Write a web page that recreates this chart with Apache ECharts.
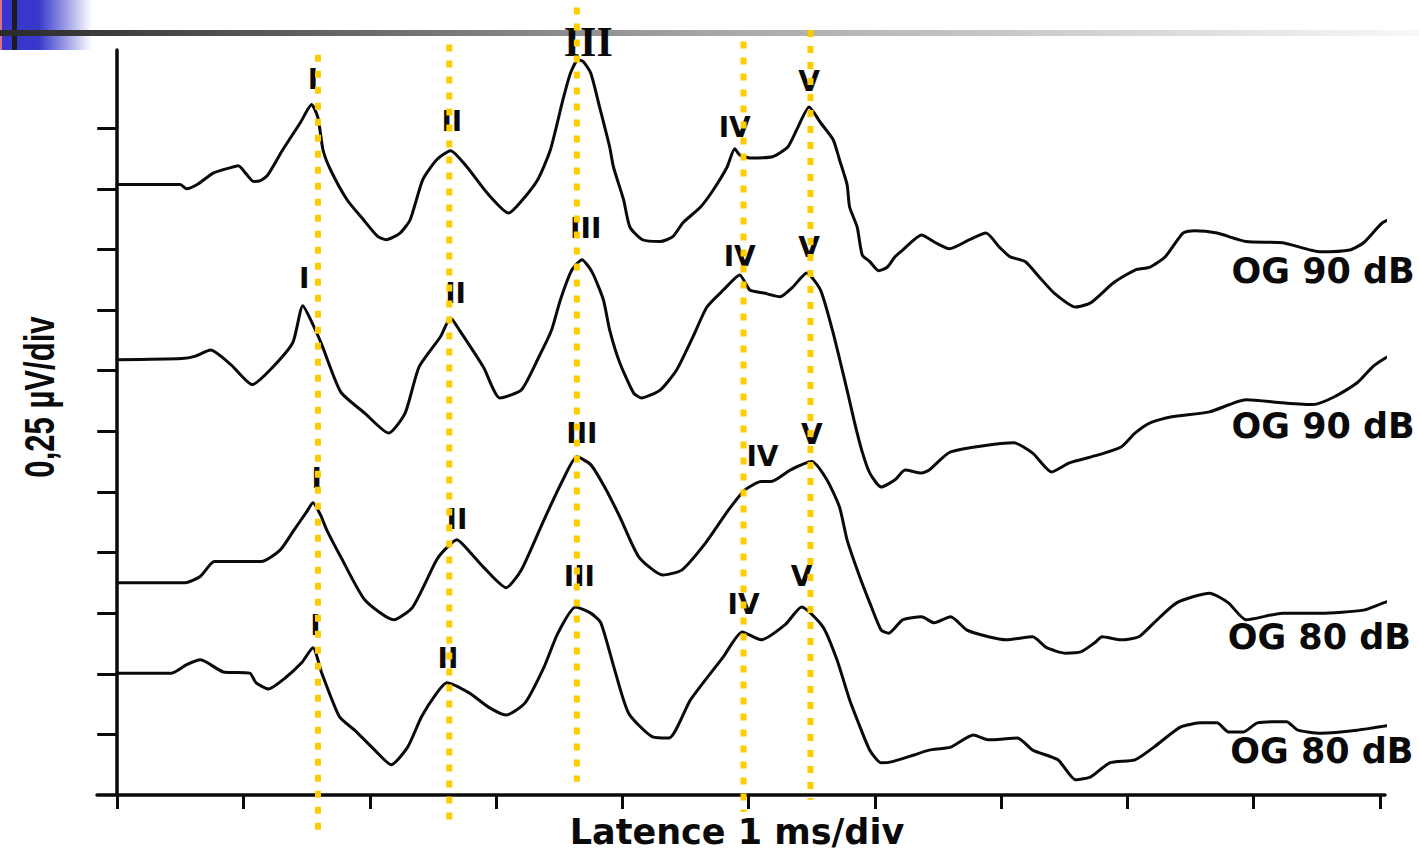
<!DOCTYPE html>
<html><head><meta charset="utf-8">
<script src="https://cdn.jsdelivr.net/npm/echarts@6/dist/echarts.min.js"></script>
<style>html,body{margin:0;padding:0;background:#fff}#c{width:1419px;height:853px}</style>
</head><body><div id="c"></div>
<script>
// x: latency (ms, 1 ms/div), y: amplitude (div, 0.25 µV/div)
const trace1 = [[0.00,10.07],[0.50,10.07],[0.55,10.00],[0.64,10.08],[0.76,10.26],[0.90,10.35],[0.96,10.38],[1.02,10.25],[1.08,10.12],[1.13,10.13],[1.19,10.22],[1.31,10.64],[1.45,11.09],[1.54,11.39],[1.59,11.17],[1.63,10.64],[1.69,10.31],[1.82,9.82],[1.95,9.49],[2.06,9.22],[2.13,9.16],[2.24,9.27],[2.32,9.49],[2.42,10.15],[2.53,10.48],[2.64,10.63],[2.77,10.36],[2.93,9.93],[3.10,9.60],[3.19,9.77],[3.33,10.15],[3.43,10.64],[3.53,11.47],[3.59,11.91],[3.65,12.13],[3.69,12.10],[3.75,11.91],[3.82,11.35],[3.90,10.69],[3.93,10.36],[4.01,9.82],[4.06,9.37],[4.16,9.16],[4.30,9.13],[4.40,9.21],[4.48,9.44],[4.62,9.70],[4.72,9.98],[4.83,10.36],[4.89,10.66],[4.93,10.56],[5.01,10.51],[5.19,10.53],[5.31,10.69],[5.38,10.97],[5.48,11.35],[5.57,11.09],[5.67,10.81],[5.72,10.48],[5.78,10.07],[5.80,9.70],[5.86,9.37],[5.90,8.91],[5.96,8.80],[6.03,8.65],[6.10,8.71],[6.16,8.88],[6.22,8.99],[6.37,9.24],[6.48,9.11],[6.59,9.01],[6.75,9.16],[6.88,9.27],[6.99,9.03],[7.07,8.88],[7.19,8.80],[7.30,8.55],[7.42,8.28],[7.59,8.05],[7.71,8.12],[7.89,8.45],[8.06,8.66],[8.18,8.71],[8.30,8.88],[8.44,9.27],[8.53,9.31],[8.71,9.27],[8.94,9.13],[9.23,9.11],[9.53,8.96],[9.76,8.99],[9.87,9.11],[10.02,9.44],[10.14,9.54],[10.25,9.57]];
const trace2 = [[0.00,7.18],[0.51,7.20],[0.62,7.24],[0.74,7.34],[0.90,7.10],[1.07,6.77],[1.21,7.01],[1.39,7.46],[1.47,8.07],[1.55,7.76],[1.62,7.43],[1.77,6.65],[1.96,6.30],[2.15,5.97],[2.28,6.30],[2.39,7.06],[2.56,7.56],[2.64,7.87],[2.71,7.67],[2.90,7.06],[3.03,6.55],[3.20,6.68],[3.34,7.23],[3.44,7.67],[3.51,8.17],[3.60,8.66],[3.68,8.83],[3.76,8.63],[3.85,8.17],[3.90,7.67],[3.98,7.13],[4.09,6.63],[4.15,6.55],[4.30,6.68],[4.43,7.01],[4.56,7.56],[4.67,8.05],[4.80,8.33],[4.93,8.58],[5.01,8.33],[5.12,8.28],[5.25,8.22],[5.35,8.38],[5.46,8.61],[5.57,8.33],[5.67,7.62],[5.78,6.68],[5.84,6.14],[5.90,5.66],[5.96,5.31],[6.05,5.08],[6.16,5.20],[6.24,5.36],[6.37,5.31],[6.43,5.36],[6.60,5.66],[7.10,5.81],[7.25,5.64],[7.40,5.33],[7.54,5.48],[7.77,5.61],[7.95,5.74],[8.06,5.97],[8.18,6.14],[8.35,6.24],[8.65,6.32],[8.94,6.52],[9.23,6.47],[9.47,6.44],[9.64,6.57],[9.82,6.80],[9.94,7.06],[10.06,7.23],[10.14,7.26],[10.25,7.31]];
const trace3 = [[0.00,3.50],[0.54,3.50],[0.66,3.61],[0.77,3.85],[1.14,3.85],[1.29,4.04],[1.40,4.37],[1.50,4.67],[1.55,4.82],[1.61,4.62],[1.66,4.37],[1.77,3.93],[1.96,3.22],[2.19,2.89],[2.34,3.10],[2.53,3.88],[2.61,4.08],[2.69,4.21],[2.80,3.99],[2.90,3.76],[3.08,3.42],[3.20,3.71],[3.38,4.54],[3.53,5.20],[3.64,5.58],[3.75,5.45],[3.86,5.08],[3.98,4.59],[4.13,3.93],[4.32,3.63],[4.47,3.71],[4.66,4.16],[4.84,4.70],[4.97,5.03],[5.10,5.17],[5.18,5.17],[5.33,5.36],[5.50,5.50],[5.62,5.20],[5.72,4.75],[5.78,4.21],[5.87,3.66],[5.96,3.17],[6.05,2.72],[6.11,2.67],[6.22,2.89],[6.37,2.94],[6.47,2.84],[6.60,2.94],[6.73,2.72],[6.90,2.61],[7.04,2.56],[7.25,2.61],[7.36,2.43],[7.51,2.34],[7.63,2.36],[7.74,2.51],[7.80,2.61],[7.95,2.56],[8.09,2.61],[8.21,2.84],[8.39,3.17],[8.65,3.33],[8.80,3.17],[8.94,2.89],[9.23,3.00],[9.53,3.00],[9.87,3.05],[10.06,3.19],[10.23,3.22]];
const trace4 = [[0.00,2.01],[0.43,2.01],[0.55,2.15],[0.66,2.23],[0.84,2.03],[1.05,2.01],[1.10,1.85],[1.20,1.75],[1.33,1.93],[1.46,2.18],[1.55,2.43],[1.62,2.01],[1.76,1.29],[1.88,1.07],[2.04,0.74],[2.17,0.50],[2.30,0.79],[2.41,1.29],[2.53,1.68],[2.61,1.85],[2.79,1.68],[2.94,1.45],[3.08,1.32],[3.23,1.52],[3.38,2.11],[3.49,2.67],[3.63,3.10],[3.75,3.00],[3.83,2.84],[3.94,2.06],[4.05,1.35],[4.24,0.96],[4.37,0.94],[4.54,1.57],[4.80,2.28],[4.95,2.69],[5.10,2.56],[5.29,2.81],[5.42,3.10],[5.59,2.77],[5.70,2.23],[5.80,1.57],[5.87,1.19],[5.96,0.74],[6.05,0.53],[6.14,0.55],[6.31,0.66],[6.43,0.74],[6.60,0.79],[6.78,0.99],[6.90,0.91],[7.13,0.94],[7.25,0.74],[7.45,0.58],[7.59,0.25],[7.71,0.30],[7.86,0.53],[8.06,0.58],[8.21,0.79],[8.42,1.12],[8.59,1.19],[8.71,1.19],[8.80,1.04],[8.92,1.04],[9.03,1.19],[9.26,1.21],[9.35,1.07],[9.53,1.02],[9.82,1.07],[10.20,1.19]];

// wave labels: [ms, div, name]
const waves1 = [[1.55,11.80,'I'],[2.65,11.11,'II'],[4.89,11.01,'IV'],[5.48,11.77,'V']];
const waves2 = [[1.48,8.52,'I'],[2.68,8.28,'II'],[3.71,9.34,'III'],[4.93,8.89,'IV'],[5.48,9.04,'V']];
const waves3 = [[1.58,5.22,'I'],[2.69,4.54,'II'],[3.68,5.97,'III'],[5.11,5.58,'IV'],[5.50,5.94,'V']];
const waves4 = [[1.57,2.79,'I'],[2.62,2.26,'II'],[3.66,3.60,'III'],[4.96,3.14,'IV'],[5.42,3.60,'V']];
const topWave = [[3.73,12.43,'III']];

const traceNames = ['OG 90 dB','OG 90 dB','OG 80 dB','OG 80 dB'];
const traceNamePos = [[9.55,8.65],[9.55,6.09],[9.52,2.61],[9.54,0.73]];

// yellow latency guide lines
const guideX = [1.59,2.63,3.64,4.96,5.49];
const guideTop = [12.21,12.38,12.99,12.43,12.62];
const guideBottom = [-0.58,-0.41,0.22,-0.28,-0.08];

const xTicks = [0,1,2,3,4,5,6,7,8,9,10];
const yTicks = [1,2,3,4,5,6,7,8,9,10,11];

const chart = echarts.init(document.getElementById('c'), null, {renderer:'svg'});
const ink = '#0a0a0a';
const traces = [trace1, trace2, trace3, trace4];
const waveSets = [waves1, waves2, waves3, waves4];
const hidden = {color:'rgba(0,0,0,0)', opacity:1};

const series = [];
traces.forEach(t => series.push({
  type:'line', data:t, symbol:'none', clip:false, silent:true, z:3, smooth:0.2,
  lineStyle:{color:ink, width:3, join:'round', cap:'round'}
}));
const labelStyle = {show:true, position:'inside', formatter:p=>p.value[2], opacity:1,
  fontFamily:'DejaVu Sans', fontWeight:'bold', fontSize:28, color:ink};
waveSets.forEach(w => series.push({
  type:'scatter', data:w, symbolSize:1, itemStyle:hidden,
  clip:false, silent:true, z:4, label:labelStyle
}));
series.push({type:'scatter', data:topWave, symbolSize:1, itemStyle:hidden,
  clip:false, silent:true, z:4,
  label:{show:true, position:'inside', formatter:p=>p.value[2], opacity:1,
    fontFamily:'Liberation Serif', fontWeight:'bold', fontSize:42, color:ink}});
series.push({type:'scatter', data:traceNamePos.map((p,i)=>[p[0],p[1],traceNames[i]]),
  symbolSize:1, itemStyle:hidden, clip:false, silent:true, z:4,
  label:{show:true, position:'inside', formatter:p=>p.value[2], opacity:1,
    fontFamily:'DejaVu Sans', fontWeight:'bold', fontSize:35, color:ink}});
guideX.forEach((x,i) => series.push({
  type:'line', data:[[x,guideTop[i]],[x,guideBottom[i]]], symbol:'none', clip:false, silent:true, z:10,
  lineStyle:{color:'#FFCC00', width:6, type:[7,9], cap:'butt'}
}));

chart.setOption({
  animation:false,
  backgroundColor:'#ffffff',
  grid:{left:97, right:34, top:50, bottom:58, containLabel:false, outerBoundsMode:'none'},
  xAxis:{type:'value', min:-0.16, max:10.04,
    axisLine:{onZero:false, lineStyle:{color:ink, width:3.5}},
    axisTick:{show:true, customValues:xTicks, length:14, lineStyle:{color:ink, width:3}},
    axisLabel:{show:false}, splitLine:{show:false},
    name:'Latence 1 ms/div', nameLocation:'middle', nameGap:20,
    nameTextStyle:{fontFamily:'DejaVu Sans', fontWeight:'bold', fontSize:35, lineHeight:33, color:ink, padding:[0,8,0,0]}},
  yAxis:{type:'value', min:0, max:12.29,
    axisLine:{onZero:true, lineStyle:{color:ink, width:3.5}},
    axisTick:{show:true, customValues:yTicks, length:20, lineStyle:{color:ink, width:3}},
    axisLabel:{show:false}, splitLine:{show:false}},
  graphic:[
    {type:'rect', z:0, shape:{x:0,y:0,width:92,height:50},
      style:{fill:new echarts.graphic.LinearGradient(0,0,1,0,[{offset:0,color:'#3636cc'},{offset:0.42,color:'#3838cc'},{offset:1,color:'#ffffff'}])}},
    {type:'rect', z:1, shape:{x:0,y:0,width:2,height:50}, style:{fill:'#e07090'}},
    {type:'rect', z:1, shape:{x:12,y:0,width:5,height:50}, style:{fill:'#1c1c1c'}},
    {type:'rect', z:1, shape:{x:0,y:30,width:1419,height:6},
      style:{fill:new echarts.graphic.LinearGradient(0,0,1,0,[{offset:0,color:'#2a2a2a'},{offset:0.5,color:'#a6a6a6'},{offset:1,color:'#f8f8f8'}])}},
    {type:'text', z:1, x:40, y:397, rotation:Math.PI/2, scaleX:0.74,
      style:{text:'0,25 µV/div', font:'bold 42px "Liberation Sans"', fill:ink, textAlign:'center', textVerticalAlign:'middle'}}
  ],
  series:series
});
</script>
</body></html>
